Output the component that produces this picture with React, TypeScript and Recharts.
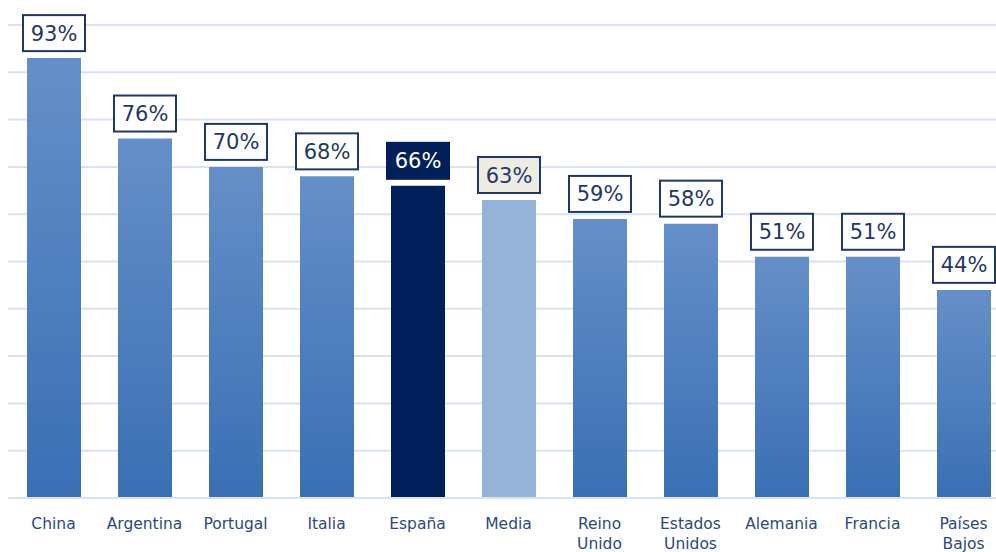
import React from 'react'
import { BarChart, Bar, XAxis, YAxis, CartesianGrid, Cell, LabelList } from 'recharts'

const countries = ['China', 'Argentina', 'Portugal', 'Italia', 'España', 'Media', 'Reino Unido', 'Estados Unidos', 'Alemania', 'Francia', 'Países Bajos']
const shares = [93, 76, 70, 68, 66, 63, 59, 58, 51, 51, 44]
const yTicks = [0, 10, 20, 30, 40, 50, 60, 70, 80, 90, 100]

const data = countries.map((name, i) => ({ name, value: shares[i] }))

const NAVY = '#1f3868'
const FONT = 'Tahoma, "DejaVu Sans", sans-serif'

const barFill = (name: string) => {
  if (name === 'España') return '#001f5b'
  if (name === 'Media') return '#95b3d7'
  return 'url(#barGrad)'
}

// multi-word country names wrap onto a second line
const CountryTick = (props: any) => {
  const { x, y, payload } = props
  const words: string[] = String(payload.value).split(' ')
  return (
    <g transform={`translate(${x},${y})`}>
      {words.map((w, i) => (
        <text key={i} x={0} y={23 + i * 20} textAnchor="middle" fill="#2b4a7c" fontSize={15.5} fontFamily={FONT}>
          {w}
        </text>
      ))}
    </g>
  )
}

const ValueBox = (props: any) => {
  const { x, y, width, value, index } = props
  const name = countries[index]
  const cx = x + width / 2
  const w = 62
  const h = 36
  const top = y - 7 - h
  let fill = '#ffffff'
  let color = NAVY
  if (name === 'España') {
    fill = '#001f5b'
    color = '#ffffff'
  } else if (name === 'Media') {
    fill = '#eeece1'
  }
  return (
    <g>
      <rect x={cx - w / 2} y={top} width={w} height={h} fill={fill} stroke={name === 'España' ? '#001f5b' : NAVY} strokeWidth={2} />
      <text x={cx} y={top + h / 2 + 7.5} textAnchor="middle" fill={color} fontSize={21} fontFamily={FONT}>
        {`${value}%`}
      </text>
    </g>
  )
}

export default function App() {
  return (
    <div style={{ position: 'absolute', left: 0, top: 0, width: 996, height: 552, overflow: 'hidden', background: '#fff' }}>
      <BarChart width={1009} height={552} data={data} margin={{ top: 25, right: 0, bottom: 0, left: 8 }}>
        <defs>
          <linearGradient id="barGrad" x1="0" y1="0" x2="0" y2="1">
            <stop offset="0%" stopColor="#658fc8" />
            <stop offset="100%" stopColor="#3a6fb4" />
          </linearGradient>
        </defs>
        <CartesianGrid vertical={false} stroke="#d8e3f2" strokeWidth={2} />
        <XAxis
          dataKey="name"
          interval={0}
          height={54}
          axisLine={{ stroke: '#d8e3f2', strokeWidth: 2 }}
          tickLine={false}
          tick={<CountryTick />}
        />
        <YAxis hide domain={[0, 100]} ticks={yTicks} />
        <Bar dataKey="value" barSize={54} isAnimationActive={false}>
          {data.map((d, i) => (
            <Cell key={i} fill={barFill(d.name)} />
          ))}
          <LabelList dataKey="value" content={<ValueBox />} />
        </Bar>
      </BarChart>
    </div>
  )
}
